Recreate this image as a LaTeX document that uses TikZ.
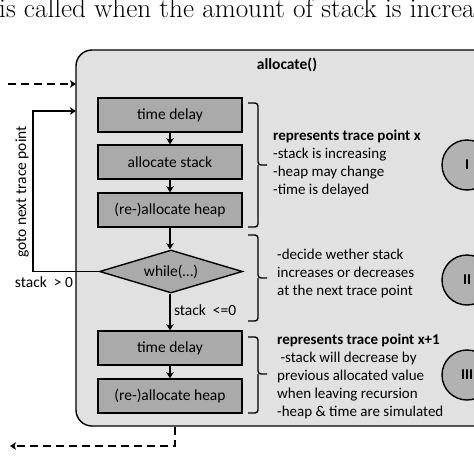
\documentclass[tikz,border=0pt]{standalone}
\usepackage{fontspec}
\newfontfamily\diag{Carlito}
\usetikzlibrary{arrows.meta,shapes.geometric}
\definecolor{outerfill}{RGB}{225,225,225}
\definecolor{boxfill}{RGB}{170,170,170}
\definecolor{circfill}{RGB}{178,178,178}
\tikzset{
  every node/.style={font=\diag\fontsize{15.5}{18}\selectfont},
  proc/.style={draw=black,line width=1.4pt,fill=boxfill,minimum width=144pt,minimum height=34pt,inner sep=0pt},
  cond/.style={draw=black,line width=1.4pt,fill=boxfill,shape=diamond,aspect=3.3,minimum width=143pt,minimum height=43pt,inner sep=0pt},
  arr/.style={line width=1.4pt,-{Stealth[length=6pt,width=7.5pt,inset=1.5pt]}},
  darr/.style={line width=1.4pt,dash pattern=on 8pt off 5pt,-{Stealth[length=6pt,width=7.5pt,inset=1.5pt,sep=0pt]}},
  bracket/.style={line width=1.4pt,rounded corners=3pt},
  roman/.style={draw=black,line width=1.4pt,fill=circfill,circle,minimum size=50pt,inner sep=0pt,font=\diag\bfseries\fontsize{15}{18}\selectfont},
  side/.style={align=left,inner sep=0pt,anchor=north west,font=\diag\fontsize{15}{18}\selectfont},
}
\begin{document}
\begin{tikzpicture}[x=1pt,y=-1pt]
\useasboundingbox (0,0) rectangle (474,474);
\clip (0,0) rectangle (474,474);
\node[anchor=base west,inner sep=0pt,font=\fontsize{27.2}{31}\selectfont] (caption) at (-1,17) {is called when the amount of stack is increased};
\node[draw=black,line width=1.4pt,fill=outerfill,rounded corners=16pt,minimum width=414pt,minimum height=376pt,inner sep=0pt] (outer) at (283,238) {};
\node[font=\diag\bfseries\fontsize{15.5}{18}\selectfont] (title) at (287,65) {allocate()};
\node[proc] (td1) at (170,115) {time delay};
\node[proc] (as) at (170,162) {allocate stack};
\node[proc] (ah1) at (170,210) {(re-)allocate heap};
\node[cond] (dia) at (171,271.5) {while(…)};
\node[proc] (td2) at (170,348) {time delay};
\node[proc] (ah2) at (170,396) {(re-)allocate heap};
\draw[arr] (td1) -- (as);
\draw[arr] (as) -- (ah1);
\draw[arr] (ah1) -- (dia.north -| ah1);
\draw[arr] (dia.south -| td2) -- node[right=0pt,pos=0.45] (le) {stack\ \ <=0} (td2);
\draw[arr] (td2) -- (ah2);
% entry and exit
\coordinate (inS) at (8,84);
\coordinate (inE) at (76,84);
\draw[darr] (inS) -- (inE);
\coordinate (exS) at (175,427);
\coordinate (exE) at (10,446);
\draw[darr] (exS) |- (exE);
% loop
\coordinate (loopc) at (33,271.5);
\coordinate (loopin) at (76,111);
\draw[arr] (dia.west) -- (loopc) |- (loopin);
\node[rotate=90] (goto) at (22,192) {goto next trace point};
\node (gt) at (44,282) {stack\ \ > 0};
% brackets
\draw[bracket] (248,103) -- (258,103) -- (258,165) -- (267,165);
\draw[bracket] (258,165) -- (258,227) -- (248,227);
\draw[bracket] (248,235) -- (258,235) -- (258,278) -- (267,278);
\draw[bracket] (258,278) -- (258,321) -- (248,321);
\draw[bracket] (248,337) -- (258,337) -- (258,374) -- (267,374);
\draw[bracket] (258,374) -- (258,413) -- (248,413);
% side texts
\node[side] (t1) at (273,130) {\bfseries represents trace point x\\-stack is increasing\\-heap may change\\-time is delayed};
\node[side] (t2) at (277,248.5) {-decide wether stack\\increases or decreases\\at the next trace point};
\node[side] (t3) at (277,334) {\bfseries represents trace point x+1\\\ -stack will decrease by\\previous allocated value\\when leaving recursion\\-heap \& time are simulated};
% circles
\node[roman] (c1) at (467,165) {I};
\node[roman] (c2) at (467,280) {II};
\node[roman] (c3) at (467,375) {III};
\end{tikzpicture}
\end{document}
